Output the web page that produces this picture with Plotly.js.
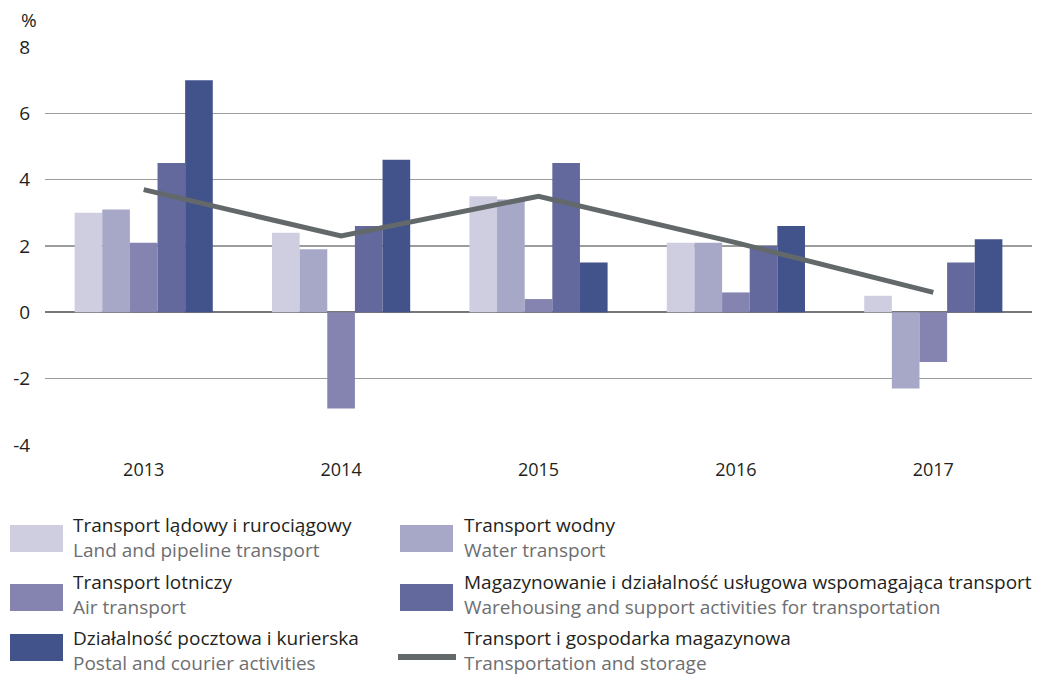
<!DOCTYPE html>
<html>
<head>
<meta charset="utf-8">
<script src="https://cdn.plot.ly/plotly-3.0.1.min.js"></script>
<style>html,body{margin:0;padding:0;background:#fff;}#chart{width:1042px;height:677px;}</style>
</head>
<body>
<div id="chart"></div>
<script>
const years = ["2013", "2014", "2015", "2016", "2017"];
const landPipeline = [3.0, 2.4, 3.5, 2.1, 0.5];
const water = [3.1, 1.9, 3.4, 2.1, -2.3];
const air = [2.1, -2.9, 0.4, 0.6, -1.5];
const warehousing = [4.5, 2.6, 4.5, 2.0, 1.5];
const postal = [7.0, 4.6, 1.5, 2.6, 2.2];
const totalTransport = [3.7, 2.3, 3.5, 2.1, 0.6];

const namesPL = ["Transport lądowy i rurociągowy", "Transport wodny", "Transport lotniczy",
  "Magazynowanie i działalność usługowa wspomagająca transport", "Działalność pocztowa i kurierska",
  "Transport i gospodarka magazynowa"];
const namesEN = ["Land and pipeline transport", "Water transport", "Air transport",
  "Warehousing and support activities for transportation", "Postal and courier activities",
  "Transportation and storage"];
const colors = ["#cfcee1", "#a7a7c8", "#8584b0", "#63699c", "#42528b", "#63686b"];
const barSeries = [landPipeline, water, air, warehousing, postal];

const FONT = "'Open Sans', 'Noto Sans', sans-serif";

const traces = barSeries.map((vals, i) => ({
  type: "bar", x: years, y: vals, name: namesPL[i],
  marker: {color: colors[i], line: {width: 0}}, hoverinfo: "y"
}));
traces.push({
  type: "scatter", mode: "lines", x: years, y: totalTransport, name: namesPL[5],
  line: {color: colors[5], width: 5}
});

// Legend: built manually (swatches + two-line labels)
const shapes = [];
const annotations = [
  {xref: "paper", yref: "paper", x: -16/987, y: 1 + 27/398, text: "%", showarrow: false,
   xanchor: "center", yanchor: "middle", font: {family: FONT, size: 19, color: "#231f20"}}
];
const plotL = 45, plotT = 47, plotW = 987, plotH = 398;
function px2x(p){ return (p - plotL) / plotW; }
function py2y(p){ return 1 - (p - plotT) / plotH; }
const legendPos = [
  {sx: 10, tx: 71, row: 0}, {sx: 400, tx: 462, row: 0},
  {sx: 10, tx: 71, row: 1}, {sx: 400, tx: 462, row: 1},
  {sx: 10, tx: 71, row: 2}, {sx: 400, tx: 462, row: 2}
];
const rowSwatchTop = [525, 584, 634];
const rowTextMid = [537, 594, 650];
namesPL.forEach((nm, si) => {
  const p = legendPos[si];
  const top = rowSwatchTop[p.row];
  if (si < 5) {
    shapes.push({type: "rect", xref: "paper", yref: "paper",
      x0: px2x(p.sx), x1: px2x(p.sx + 53), y0: py2y(top), y1: py2y(top + 27),
      fillcolor: colors[si], line: {width: 0}});
  } else {
    shapes.push({type: "line", xref: "paper", yref: "paper",
      x0: px2x(p.sx - 2), x1: px2x(p.sx + 56), y0: py2y(657), y1: py2y(657),
      line: {color: colors[si], width: 6}});
  }
  annotations.push({xref: "paper", yref: "paper", x: px2x(p.tx), y: py2y(rowTextMid[p.row]),
    text: namesPL[si] + "<br><span style='color:#6d6e71'>" + namesEN[si] + "</span>",
    showarrow: false, xanchor: "left", yanchor: "middle", align: "left",
    font: {family: FONT, size: 19, color: "#231f20"}});
});

const layout = {
  width: 1042, height: 677,
  margin: {l: 45, r: 10, t: 47, b: 232},
  paper_bgcolor: "#ffffff", plot_bgcolor: "#ffffff",
  showlegend: false,
  barmode: "group", bargap: 0.3, bargroupgap: 0,
  font: {family: FONT, size: 18, color: "#231f20"},
  xaxis: {type: "category", range: [-0.5, 4.5], showgrid: false, zeroline: false,
    showline: false, ticks: "outside", ticklen: 8, tickcolor: "rgba(0,0,0,0)",
    tickfont: {family: FONT, size: 18, color: "#231f20"}, fixedrange: true},
  yaxis: {range: [-4, 8], tickvals: [-4, -2, 0, 2, 4, 6, 8], ticktext: ["-4","-2","0","2","4","6","8"],
    showgrid: true, gridcolor: "#9b9c9e", gridwidth: 1.3,
    zeroline: true, zerolinecolor: "#76777a", zerolinewidth: 2,
    showline: false, ticks: "outside", ticklen: 10, tickcolor: "rgba(0,0,0,0)",
    tickfont: {family: FONT, size: 19, color: "#231f20"}, fixedrange: true},
  shapes: shapes,
  annotations: annotations
};

Plotly.newPlot("chart", traces, layout, {displayModeBar: false, staticPlot: true});
</script>
</body>
</html>
